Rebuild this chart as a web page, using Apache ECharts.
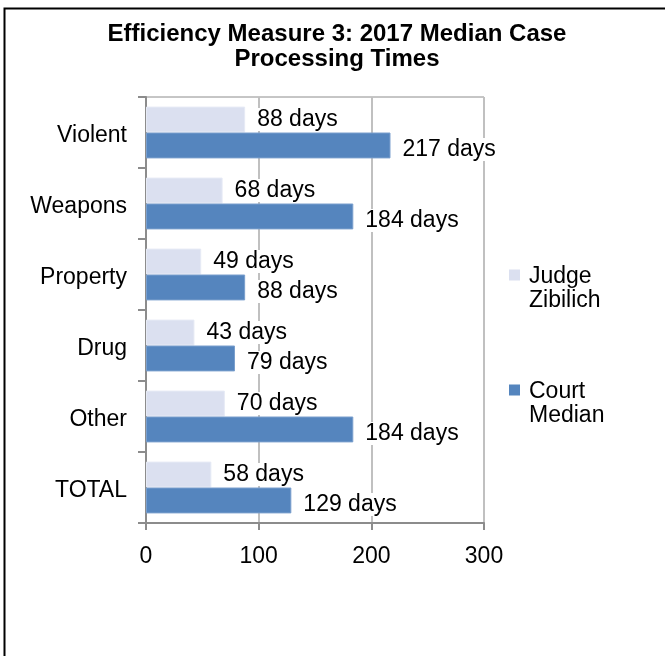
<!DOCTYPE html>
<html>
<head>
<meta charset="utf-8">
<script src="https://cdn.jsdelivr.net/npm/echarts@6/dist/echarts.min.js"></script>
<style>html,body{margin:0;padding:0;background:#fff;}#c{width:665px;height:656px;}</style>
</head>
<body>
<div id="c"></div>
<script>
const categories = ['Violent', 'Weapons', 'Property', 'Drug', 'Other', 'TOTAL'];
const judgeValues = [88, 68, 49, 43, 70, 58];
const courtValues = [217, 184, 88, 79, 184, 129];
const seriesNames = ['Judge Zibilich', 'Court Median'];
const legendLabels = {'Judge Zibilich': 'Judge\nZibilich', 'Court Median': 'Court\nMedian'};
const xTicks = [0, 100, 200, 300];

const FONT = '"Liberation Sans", Arial, sans-serif';
const chart = echarts.init(document.getElementById('c'));
const labelCommon = {
  show: true, position: 'right', distance: 9,
  formatter: p => p.value + ' days',
  color: '#000', fontFamily: FONT, fontSize: 23,
  backgroundColor: '#fff', padding: [0, 3, 0, 3]
};
chart.setOption({
  animation: false,
  backgroundColor: '#fff',
  title: {
    text: 'Efficiency Measure 3: 2017 Median Case\nProcessing Times',
    left: 332, top: 17, textAlign: 'center',
    textStyle: {fontFamily: FONT, fontWeight: 'bold', fontSize: 24, lineHeight: 25, color: '#000'}
  },
  graphic: [{
    type: 'rect', left: 2, top: 6, shape: {width: 720, height: 720},
    style: {fill: 'none', stroke: '#000', lineWidth: 2}, silent: true
  }],
  legend: {
    orient: 'vertical', left: 504, top: 260,
    itemWidth: 15, itemHeight: 48, itemGap: 67,
    icon: 'path://M0,0V48 M15,48V0 M0,4.5H11V15.5H0Z',
    itemStyle: {borderWidth: 0},
    formatter: n => legendLabels[n],
    textStyle: {fontFamily: FONT, fontSize: 23, lineHeight: 24, color: '#000'},
    data: seriesNames
  },
  grid: {left: 146, right: 181, top: 97, bottom: 133, show: true, borderColor: '#8c8c8c', borderWidth: 1, backgroundColor: 'transparent'},
  xAxis: {
    type: 'value', min: xTicks[0], max: xTicks[xTicks.length - 1], interval: 100,
    axisLine: {show: true, lineStyle: {color: '#8c8c8c', width: 2}},
    axisTick: {show: true, length: 7, lineStyle: {color: '#8c8c8c', width: 2}},
    splitLine: {show: true, lineStyle: {color: '#c0c0c0', width: 2}},
    axisLabel: {fontFamily: FONT, fontSize: 23, color: '#000', margin: 22}
  },
  yAxis: {
    type: 'category', data: categories, inverse: true,
    axisLine: {show: true, lineStyle: {color: '#8c8c8c', width: 2}},
    axisTick: {show: true, length: 8, lineStyle: {color: '#8c8c8c', width: 2}},
    axisLabel: {
      color: '#000', margin: 19,
      formatter: v => '{c|' + v + '}',
      rich: {c: {fontFamily: FONT, fontSize: 23, color: '#000', padding: [6, 0, 0, 0]}}
    }
  },
  series: [
    {
      name: seriesNames[0], type: 'bar', data: judgeValues,
      barGap: '0%', barCategoryGap: '27%',
      itemStyle: {color: '#dbe0f0', borderColor: '#e6eaf5', borderWidth: 1},
      label: Object.assign({}, labelCommon, {offset: [0, 0]})
    },
    {
      name: seriesNames[1], type: 'bar', data: courtValues,
      itemStyle: {color: '#5585be', borderColor: '#7a9fcd', borderWidth: 1},
      label: Object.assign({}, labelCommon, {offset: [0, 4]})
    }
  ]
});
</script>
</body>
</html>
